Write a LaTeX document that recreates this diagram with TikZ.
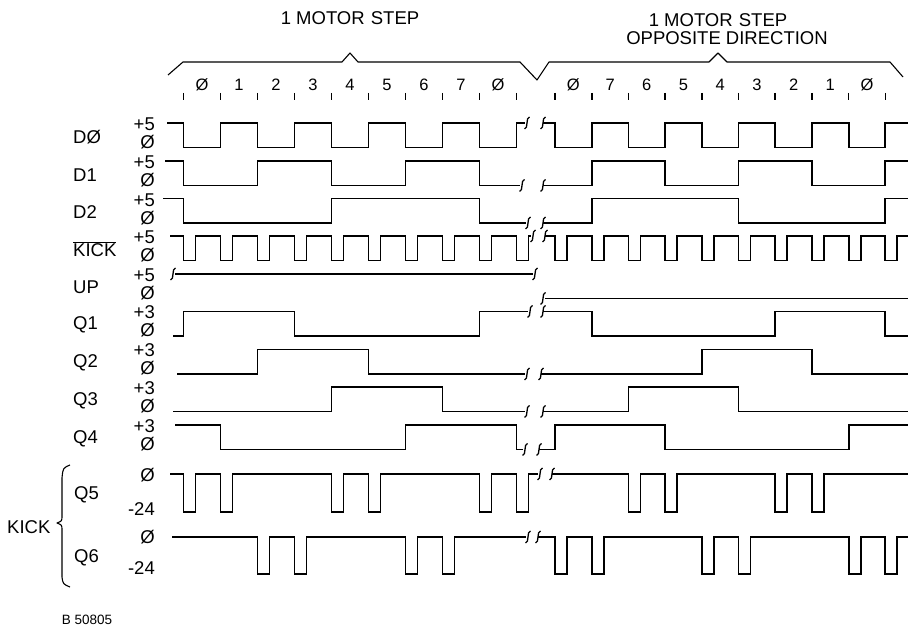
\documentclass[tikz,border=0pt]{standalone}
\usepackage{fontspec}
\setmainfont{Liberation Sans}
\begin{document}
\begin{tikzpicture}[x=1pt,y=-1pt,
  wave/.style={line width=1.8pt, line join=miter},
  brk/.style={line width=1.3pt},
  bracel/.style={line width=1.1pt, line join=round},
  tickm/.style={line width=1.6pt},
  lbl/.style={font=\fontsize{18.5}{20}\selectfont, inner sep=0pt, anchor=west},
  val/.style={font=\fontsize{18.5}{20}\selectfont, inner sep=0pt, anchor=east},
  num/.style={font=\fontsize{16.5}{18}\selectfont, inner sep=0pt},
  ttl/.style={font=\fontsize{18.5}{20}\selectfont, inner sep=0pt},
  brkpic/.pic={\draw[brk] (2.5,-6) .. controls (-1.5,-6) and (1.5,6) .. (-2.5,6);}
]
\useasboundingbox (0,0) rectangle (908,628);

% titles
\node[ttl] (t1) at (350,18) {1 MOTOR\,\,STEP};
\node[ttl] (t2) at (718,20) {1 MOTOR\,\,STEP};
\node[ttl] (t3) at (727,38) {OPPOSITE DIRECTION};

% braces
\draw[bracel] (168,75) -- (183,62) -- (342,62) -- (350,53) -- (358,62) -- (520,62) -- (537,80)
  -- (549,62) -- (709,62) -- (718,53) -- (727,62) -- (890,62) -- (903,77);

% ticks
\foreach \x in {183.5,220.5,257.5,294.5,331.5,368.5,405.5,442.5,479.5,516.5,
                555,591.7,628.4,665.1,701.8,738.5,775.2,811.9,848.6,885.3}
  \draw[tickm] (\x,93) -- (\x,100);

% step numbers
\foreach \x/\t [count=\i] in {202/\O,239/1,276/2,313/3,350/4,387/5,424/6,461/7,498/\O}
  \node[num] (nl\i) at (\x,85) {\t};
\foreach \x/\t [count=\i] in {573.4/\O,610.1/7,646.8/6,683.5/5,720.2/4,756.9/3,793.6/2,830.3/1,867/\O}
  \node[num] (nr\i) at (\x,85) {\t};

% signal names
\node[lbl] (nD0) at (73,137) {D\O};
\node[lbl] (nD1) at (73,175) {D1};
\node[lbl] (nD2) at (73,212) {D2};
\node[lbl] (nKK) at (73,249) {$\overline{\hbox{KICK}}$};
\node[lbl] (nUP) at (73,287) {UP};
\node[lbl] (nQ1) at (73,325) {Q1};
\node[lbl] (nQ2) at (73,363) {Q2};
\node[lbl] (nQ3) at (73,401) {Q3};
\node[lbl] (nQ4) at (73,439) {Q4};
\node[lbl] (nQ5) at (74,495) {Q5};
\node[lbl] (nQ6) at (74,558) {Q6};
\node[lbl] (nKB) at (7,527) {KICK};
\draw[bracel] (70,465) .. controls (63,468) .. (62,478) -- (62,516) .. controls (62,521) .. (57,523)
  .. controls (62,525) .. (62,530) -- (62,577) .. controls (63,584) .. (70,587);

% level values
\foreach \h/\v [count=\i] in {124/+5,162/+5,200/+5,237/+5,275/+5,312/+3,350/+3,388/+3,426/+3}
  \node[val] (vh\i) at (155,\h) {\v};
\foreach \h [count=\i] in {142,180,218,255,293,330,368,406,444}
  \node[val] (vl\i) at (155,\h) {\O};
\node[val] (v5h) at (155,475) {\O};
\node[val] (v5l) at (155,509) {-24};
\node[val] (v6h) at (155,537) {\O};
\node[val] (v6l) at (155,568) {-24};

\node[font=\fontsize{13.5}{15}\selectfont, inner sep=0pt] (ref) at (87,620) {B 50805};

% D0
\draw[wave] (167,123) -| (183.5,147.5) -| (220.5,123) -| (257.5,147.5) -| (294.5,123) -| (331.5,147.5) -| (368.5,123) -| (405.5,147.5) -| (442.5,123) -| (479.5,147.5) -| (516.5,123) -- (525,123);
\draw[wave] (543,123) -| (555,147.5) -| (591.7,123) -| (628.4,147.5) -| (665.1,123) -| (701.8,147.5) -| (738.5,123) -| (775.2,147.5) -| (811.9,123) -| (848.6,147.5) -| (885.3,123) -- (908,123);
% D1
\draw[wave] (165,161) -| (183.5,185.5) -| (257.5,161) -| (331.5,185.5) -| (405.5,161) -| (479.5,185.5) -- (520,185.5);
\draw[wave] (543,185.5) -| (591.7,161) -| (665.1,185.5) -| (738.5,161) -| (811.9,185.5) -| (885.3,161) -- (908,161);
% D2
\draw[wave] (163,198.5) -| (183.5,223) -| (331.5,198.5) -| (479.5,223) -- (526,223);
\draw[wave] (543,223) -| (591.7,198.5) -| (738.5,223) -| (885.3,198.5) -- (908,198.5);
% KICK
\draw[wave] (170,236) -| (183.5,260.5) -| (195.5,236) -| (220.5,260.5) -| (232.5,236) -| (257.5,260.5) -| (269.5,236) -| (294.5,260.5) -| (306.5,236) -| (331.5,260.5) -| (343.5,236) -| (368.5,260.5) -| (380.5,236) -| (405.5,260.5) -| (417.5,236) -| (442.5,260.5) -| (454.5,236) -| (479.5,260.5) -| (491.5,236) -| (516.5,260.5) -| (528.5,236) -- (531,236);
\draw[wave] (545,236) -| (555,260.5) -| (567,236) -| (591.7,260.5) -| (603.7,236) -| (628.4,260.5) -| (640.4,236) -| (665.1,260.5) -| (677.1,236) -| (701.8,260.5) -| (713.8,236) -| (738.5,260.5) -| (750.5,236) -| (775.2,260.5) -| (787.2,236) -| (811.9,260.5) -| (823.9,236) -| (848.6,260.5) -| (860.6,236) -| (885.3,260.5) -| (897.3,236) -- (908,236);
% UP
\draw[wave] (175,274) -- (533,274);
\draw[wave] (545,298.5) -- (908,298.5);
% Q1
\draw[wave] (173,336) -| (183.5,311.5) -| (294.5,336) -| (479.5,311.5) -- (528,311.5);
\draw[wave] (543,311.5) -| (591.7,336) -| (775.2,311.5) -| (885.3,336) -- (908,336);
% Q2
\draw[wave] (177,374) -| (257.5,349.5) -| (368.5,374) -- (525,374);
\draw[wave] (541,374) -| (701.8,349.5) -| (811.9,374) -- (908,374);
% Q3
\draw[wave] (173,411.5) -| (331.5,387) -| (442.5,411.5) -- (525,411.5);
\draw[wave] (543,411.5) -| (628.4,387) -| (738.5,411.5) -- (908,411.5);
% Q4
\draw[wave] (175,425) -| (220.5,449.5) -| (405.5,425) -| (516.5,449.5) -- (523,449.5);
\draw[wave] (539,449.5) -| (555,425) -| (665.1,449.5) -| (848.6,425) -- (908,425);
% Q5
\draw[wave] (170,474) -| (183.5,512) -| (195.5,474) -| (220.5,512) -| (232.5,474) -| (331.5,512) -| (343.5,474) -| (368.5,512) -| (380.5,474) -| (479.5,512) -| (491.5,474) -| (516.5,512) -| (528.5,474) -- (538,474);
\draw[wave] (552,474) -| (628.4,512) -| (640.4,474) -| (665.1,512) -| (677.1,474) -| (775.2,512) -| (787.2,474) -| (811.9,512) -| (823.9,474) -- (908,474);
% Q6
\draw[wave] (172,537) -| (257.5,574) -| (269.5,537) -| (294.5,574) -| (306.5,537) -| (405.5,574) -| (417.5,537) -| (442.5,574) -| (454.5,537) -- (526,537);
\draw[wave] (538,537) -| (555,574) -| (567,537) -| (591.7,574) -| (603.7,537) -| (701.8,574) -| (713.8,537) -| (738.5,574) -| (750.5,537) -| (848.6,574) -| (860.6,537) -| (885.3,574) -| (897.3,537) -- (908,537);

% break marks
\foreach \x/\y in {527/123,543/123,522/185.5,543/185.5,528/223,543/223,533/236,545/236,
   173/274,535/274,543/298.5,530/311.5,543/311.5,527/374,541/374,527/411.5,543/411.5,
   525/449.5,539/449.5,540/474,552/474,528/537,538/537}
  \pic at (\x,\y) {brkpic};
\end{tikzpicture}
\end{document}
